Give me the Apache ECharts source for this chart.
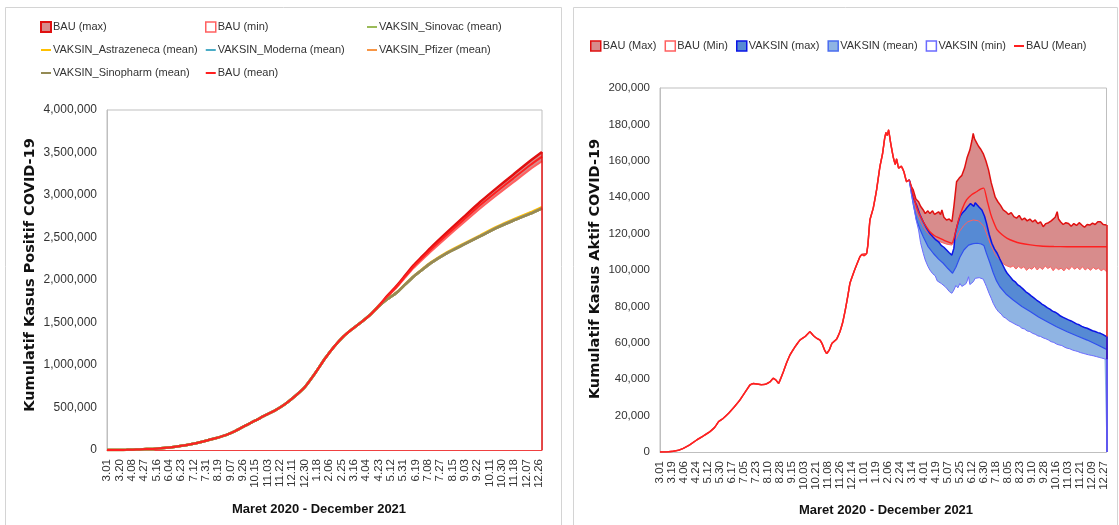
<!DOCTYPE html>
<html>
<head>
<meta charset="utf-8">
<script src="https://cdn.jsdelivr.net/npm/echarts/dist/echarts.min.js"></script>
<style>
  html, body { margin: 0; padding: 0; background: #ffffff; }
  #chart { width: 1119px; height: 525px; }
</style>
</head>
<body>
<div id="chart"></div>
<script>
// Daily axis: day 0 = 1 March 2020, last day = 31 December 2021
const firstDay = Date.UTC(2020, 2, 1);
const dayCount = 671;
const dayLabels = Array.from({ length: dayCount }, (_, i) => {
  const d = new Date(firstDay + i * 86400000);
  return (d.getUTCMonth() + 1) + '.' + String(d.getUTCDate()).padStart(2, '0');
});

// ---- Left panel: cumulative positive cases, [day, cases] ----
const positifHistory = [[0,0],[10,30],[20,450],[30,1528],[40,3800],[50,6700],[61,10500],[75,16000],[91,26500],[105,39300],[121,56400],[137,80100],[152,108400],[167,137500],[183,174800],[198,225000],[213,287000],[228,344700],[244,410100],[259,467100],[274,538900],[289,629400],[305,743200],[320,896600],[336,1078300],[350,1217500],[364,1334600],[378,1425000],[391,1500000],[405,1588000]];
const bauMaxPositif = [[420,1710000],[432,1816000],[446,1931000],[459,2051000],[472,2172000],[485,2274000],[498,2376000],[523,2557000],[549,2739000],[575,2920000],[600,3081000],[626,3242000],[652,3402000],[670,3505000]];
const bauMinPositif = [[420,1702000],[432,1804000],[446,1911000],[459,2027000],[472,2140000],[485,2236000],[498,2330000],[523,2501000],[549,2673000],[575,2844000],[600,2997000],[626,3150000],[652,3304000],[670,3397000]];
const bauMeanPositif = [[420,1706000],[432,1810000],[446,1921000],[459,2039000],[472,2156000],[485,2255000],[498,2353000],[523,2529000],[549,2706000],[575,2882000],[600,3039000],[626,3196000],[652,3353000],[670,3451000]];
const vaksinPositif = [[420,1700000],[432,1775000],[446,1850000],[459,1945000],[472,2039000],[485,2118000],[498,2196000],[523,2314000],[549,2415000],[575,2515000],[600,2612000],[626,2700000],[652,2780000],[670,2843000]];
const astrazenecaPositif = [[420,1700000],[432,1776000],[446,1852000],[459,1948000],[472,2043000],[485,2123000],[498,2202000],[523,2322000],[549,2425000],[575,2526000],[600,2624000],[626,2713000],[652,2794000],[670,2857000]];

// ---- Right panel: active cases, [day, cases] ----
const aktifHistory = [[0,0],[10,50],[20,400],[28,1000],[35,2000],[45,4000],[55,6600],[65,8800],[75,11200],[82,13500],[88,16700],[95,18500],[103,21300],[112,25000],[120,28600],[128,33000],[135,36800],[140,37600],[146,37300],[152,37000],[158,37200],[165,38500],[170,40500],[174,39500],[178,37700],[185,44000],[190,49000],[195,53300],[203,58000],[210,61500],[218,63500],[225,66100],[230,64000],[235,62500],[240,61500],[243,59700],[247,56000],[250,54200],[254,56000],[258,59700],[265,62000],[270,66100],[274,71000],[278,78000],[282,86000],[285,92700],[292,100000],[300,107300],[303,108500],[306,107800],[310,109000],[312,114000],[315,127500],[320,134000],[325,144000],[330,156800],[334,164000],[337,172000],[339,175500],[341,174000],[343,177000],[346,170000],[350,162000],[353,158000],[355,161000],[358,156000],[362,157000],[366,154000],[370,148500],[374,149500]];
const bauMaxAktif = [[377,146000],[380,144000],[384,139000],[388,137500],[391,135000],[395,133000],[398,131000],[402,132500],[405,131000],[409,132500],[412,130500],[415,131500],[418,132000],[421,130500],[423,133000],[426,129000],[430,127500],[434,128000],[438,126500],[441,135000],[445,148500],[449,150500],[453,152000],[457,156000],[461,162000],[465,166000],[468,171000],[470,175000],[472,172000],[475,170000],[478,168000],[481,166500],[485,164000],[489,160000],[493,155000],[497,148000],[500,144000],[503,140000],[507,137500],[511,135500],[515,133000],[519,132000],[523,130500],[527,131500],[531,129300],[535,128500],[539,130000],[543,127500],[547,128500],[551,127000],[555,128000],[559,126500],[563,127500],[567,125500],[571,126500],[575,123800],[579,125500],[583,126000],[587,127000],[590,127500],[593,129000],[596,132000],[598,128000],[601,126500],[605,125000],[609,126000],[613,125600],[617,124000],[621,125500],[625,124500],[629,126000],[633,124700],[637,123500],[641,125000],[645,124700],[649,125800],[653,125000],[657,126500],[661,126500],[665,125000],[668,126000],[670,124700]];
const bauMinAktif = [[380,140000],[385,132000],[390,127500],[395,123800],[400,121000],[405,119000],[412,117000],[420,115500],[430,114200],[438,113700],[444,117000],[450,121500],[456,124500],[462,126500],[470,127500],[478,127000],[486,124000],[492,118000],[497,113000],[500,111000],[503,108500],[506,107500],[510,105500],[513,104000],[516,105000],[519,102500],[522,103500],[526,101500],[530,102300],[534,100500],[538,102000],[542,100800],[546,101800],[550,99800],[554,101200],[558,100400],[562,102000],[566,100000],[570,101500],[574,100300],[578,102200],[582,100800],[586,101800],[590,99600],[594,101400],[598,100200],[602,101000],[606,99500],[610,101300],[614,100200],[618,102000],[622,100400],[626,101500],[630,100100],[634,101800],[638,100000],[642,101200],[646,99800],[650,101400],[654,100300],[658,101000],[662,99600],[666,100500],[670,99000]];
const bauMeanAktif = [[380,141000],[385,134800],[390,130000],[395,126500],[400,123500],[405,121000],[412,118800],[420,117400],[430,115700],[438,114700],[443,120000],[448,127500],[454,134000],[460,138500],[468,141500],[475,143000],[481,144500],[486,145000],[491,138000],[496,131000],[501,126000],[506,122000],[513,119500],[521,117400],[531,115800],[541,114700],[556,113800],[571,113200],[591,112900],[611,112800],[670,112800]];
const vaksinMaxAktif = [[374,149500],[378,143000],[381,139000],[385,135700],[390,130500],[395,126500],[400,123000],[405,120000],[410,118000],[414,116500],[418,115500],[422,113500],[426,112500],[430,111000],[434,109500],[438,108200],[441,112000],[443,120000],[446,124500],[450,129300],[454,131500],[458,133000],[461,134500],[464,133500],[466,136500],[468,136600],[471,135000],[473,137000],[476,135700],[479,134500],[483,133000],[487,129500],[490,125600],[494,119500],[498,114700],[502,111500],[506,109200],[510,106000],[514,103000],[518,100000],[521,98200],[525,96500],[529,94600],[533,93500],[537,91800],[541,90800],[545,89500],[549,88000],[553,87000],[557,85800],[561,84700],[565,83500],[569,82500],[573,81300],[577,80400],[581,79300],[585,78500],[589,77400],[593,76800],[597,75900],[601,74700],[605,74000],[609,73300],[613,72600],[617,72000],[621,71200],[625,70400],[629,69900],[633,69000],[637,68400],[641,68000],[645,67300],[649,66600],[653,66200],[657,65600],[661,65200],[665,64500],[670,63400]];
const vaksinMeanAktif = [[374,149500],[380,136000],[385,127500],[390,122500],[395,118300],[402,113000],[410,109200],[418,106000],[425,103700],[432,100800],[439,98200],[444,101500],[450,107000],[456,111000],[463,113700],[470,114500],[476,114700],[482,114300],[486,113500],[490,109000],[495,104000],[500,98500],[505,94000],[510,90800],[520,86500],[530,83500],[543,80000],[556,77100],[568,74200],[581,71600],[595,68800],[611,66100],[626,63700],[641,61500],[656,58900],[670,56400]];
const vaksinMinAktif = [[374,149500],[377,142000],[380,136600],[384,128000],[388,122000],[391,115000],[395,109200],[398,105500],[402,102000],[405,100000],[409,98000],[413,96800],[416,94000],[418,94500],[422,92600],[425,91800],[428,90800],[431,89600],[434,88200],[436,88800],[438,87200],[441,89000],[444,91500],[447,90200],[450,92600],[453,91000],[456,91800],[459,92400],[461,94000],[463,96300],[465,92000],[468,91800],[470,93500],[473,95400],[476,94800],[479,95800],[482,96300],[485,95000],[488,92500],[490,90800],[494,87000],[497,84500],[500,81700],[504,79000],[508,77000],[512,75800],[515,74300],[519,73500],[523,72200],[527,71400],[531,70600],[535,69800],[539,69200],[543,68000],[547,67600],[551,66500],[555,66200],[559,65200],[563,64700],[567,63800],[571,63500],[575,62700],[579,62200],[583,61500],[587,60600],[591,60200],[595,59300],[599,58800],[603,58500],[607,57600],[611,57000],[615,56700],[619,56000],[623,55600],[627,55200],[631,54600],[635,54200],[639,53800],[643,53400],[647,53100],[651,52800],[655,52400],[659,52000],[663,51600],[667,51200],[670,50900]];

const FONT = '"Liberation Sans", Arial, sans-serif';
const lastDay = dayCount - 1;
const lineIcon = 'path://M0,0M0,10M0,4H10V6H0Z';

// Vertical closing edge of an area at the last day
function edge(data, color, width) {
  const last = data[data.length - 1];
  return {
    silent: true, symbol: ['none', 'none'], z: 4,
    label: { show: false },
    lineStyle: { color: color, width: width, type: 'solid' },
    data: [[{ coord: [lastDay, 0] }, { coord: [lastDay, last[1]] }]]
  };
}

function series(name, panel, data, line, area, extra) {
  return Object.assign({
    name: name, type: 'line',
    xAxisIndex: panel, yAxisIndex: panel,
    data: data, showSymbol: false, symbol: 'none',
    lineStyle: line, itemStyle: { color: line.color },
    areaStyle: area, emphasis: { disabled: true }, silent: true
  }, extra || {});
}

// Vaccine band in the right panel: the fill covers the whole period,
// the outline is only drawn from the branching day onwards.
function vaksinBand(name, projection, fill, lineColor, width, withEdge) {
  const full = aktifHistory.slice(0, -1).concat(projection);
  return [
    series(name, 1, full, { color: lineColor, width: 0, opacity: 0 }, { color: fill, opacity: 1 },
      withEdge ? { markLine: edge(full, lineColor, 1.5) } : {}),
    series(name + ' outline', 1, projection, { color: lineColor, width: width }, null)
  ];
}

function legendBox(color, border, width) {
  return { icon: 'rect', itemStyle: { color: color, borderColor: border, borderWidth: width } };
}
function legendLine(color) {
  return { icon: lineIcon, itemStyle: { color: color, borderWidth: 0 } };
}

const C = {
  bauMaxFill: '#d88c8c', bauMaxLine: '#e01010', bauMinLine: '#ff6060', bauMean: '#ff2020',
  sinovac: '#9bbb59', astra: '#ffc000', moderna: '#4bacc6', pfizer: '#f79646', sinopharm: '#948a54',
  vMaxFill: '#568ad4', vMaxLine: '#0a14e6', vMeanFill: '#8fb4e3', vMeanLine: '#3050ee', vMinLine: '#6b6bff'
};

const leftBauMax = positifHistory.concat(bauMaxPositif);
const rightBauMax = aktifHistory.concat(bauMaxAktif);

const legendCommon = {
  orient: 'vertical', padding: 0, itemWidth: 10, itemHeight: 10, itemGap: 9,
  selectedMode: false,
  textStyle: { fontFamily: FONT, fontSize: 11, color: '#333', lineHeight: 14, padding: [0, 0, 0, -3] }
};

const option = {
  animation: false,
  backgroundColor: '#ffffff',
  grid: [
    { left: 107, top: 110, width: 435, height: 340, show: true, borderColor: '#bfbfbf', borderWidth: 1 },
    { left: 660, top: 88, width: 446.5, height: 364, show: true, borderColor: '#bfbfbf', borderWidth: 1 }
  ],
  legend: [
    Object.assign({ left: 40, top: 20, data: [
      Object.assign({ name: 'BAU (max)' }, legendBox(C.bauMaxFill, C.bauMaxLine, 2)),
      Object.assign({ name: 'VAKSIN_Astrazeneca (mean)' }, legendLine(C.astra)),
      Object.assign({ name: 'VAKSIN_Sinopharm (mean)' }, legendLine(C.sinopharm))
    ] }, legendCommon),
    Object.assign({ left: 205, top: 20, data: [
      Object.assign({ name: 'BAU (min)' }, legendBox('#ffffff', C.bauMinLine, 1.5)),
      Object.assign({ name: 'VAKSIN_Moderna (mean)' }, legendLine(C.moderna)),
      Object.assign({ name: 'BAU (mean)' }, legendLine(C.bauMean))
    ] }, legendCommon),
    Object.assign({ left: 367, top: 20, data: [
      Object.assign({ name: 'VAKSIN_Sinovac (mean)' }, legendLine(C.sinovac)),
      Object.assign({ name: 'VAKSIN_Pfizer (mean)' }, legendLine(C.pfizer))
    ] }, legendCommon),
    Object.assign({}, legendCommon, { orient: 'horizontal', left: 590, top: 39, itemGap: 8, data: [
      Object.assign({ name: 'BAU (Max)' }, legendBox(C.bauMaxFill, C.bauMaxLine, 1.5)),
      Object.assign({ name: 'BAU (Min)' }, legendBox('#ffffff', C.bauMinLine, 1.5)),
      Object.assign({ name: 'VAKSIN (max)' }, legendBox(C.vMaxFill, C.vMaxLine, 1.5)),
      Object.assign({ name: 'VAKSIN (mean)' }, legendBox(C.vMeanFill, '#4a6cf0', 1.5)),
      Object.assign({ name: 'VAKSIN (min)' }, legendBox('#ffffff', C.vMinLine, 1.5)),
      Object.assign({ name: 'BAU (Mean)' }, legendLine(C.bauMean))
    ] })
  ],
  xAxis: [0, 1].map(i => ({
    type: 'category', gridIndex: i, data: dayLabels, boundaryGap: false,
    axisTick: { show: false },
    axisLine: { lineStyle: { color: i === 0 ? '#f04040' : '#bfbfbf', width: 1 } },
    axisLabel: { interval: i === 0 ? 18 : 17, rotate: 90, margin: 9, fontFamily: FONT, fontSize: 11.5, color: '#333' },
    splitLine: { show: false }
  })),
  yAxis: [
    { type: 'value', gridIndex: 0, min: 0, max: 4000000, interval: 500000 },
    { type: 'value', gridIndex: 1, min: 0, max: 200000, interval: 20000 }
  ].map((a, i) => Object.assign(a, {
    axisLine: { show: true, lineStyle: { color: '#bfbfbf' } },
    axisTick: { show: false },
    splitLine: { show: false },
    axisLabel: { margin: 10, fontFamily: FONT, fontSize: i === 0 ? 12 : 11.5, color: '#333',
      formatter: v => v.toLocaleString('en-US') }
  })),
  series: [
    // left panel
    series('BAU (max)', 0, leftBauMax, { color: C.bauMaxLine, width: 2.5 },
      { color: C.bauMaxFill, opacity: 1 }, { smooth: 0.2, markLine: edge(leftBauMax, C.bauMaxLine, 1.5) }),
    series('BAU (min)', 0, positifHistory.concat(bauMinPositif), { color: C.bauMinLine, width: 2 },
      { color: '#ffffff', opacity: 1 }, { smooth: 0.2 }),
    series('VAKSIN_Sinovac (mean)', 0, positifHistory.concat(vaksinPositif), { color: C.sinovac, width: 2.5 }, null, { smooth: 0.2 }),
    series('VAKSIN_Astrazeneca (mean)', 0, positifHistory.concat(astrazenecaPositif), { color: C.astra, width: 2.5 }, null, { smooth: 0.2 }),
    series('VAKSIN_Moderna (mean)', 0, positifHistory.concat(vaksinPositif), { color: C.moderna, width: 2.5 }, null, { smooth: 0.2 }),
    series('VAKSIN_Pfizer (mean)', 0, positifHistory.concat(vaksinPositif), { color: C.pfizer, width: 2.5 }, null, { smooth: 0.2 }),
    series('VAKSIN_Sinopharm (mean)', 0, positifHistory.concat(vaksinPositif), { color: C.sinopharm, width: 2.5 }, null, { smooth: 0.2 }),
    series('BAU (mean)', 0, positifHistory.concat(bauMeanPositif), { color: C.bauMean, width: 2 }, null, { smooth: 0.2 }),
    // right panel
    series('BAU (Max)', 1, rightBauMax, { color: C.bauMaxLine, width: 1.5 },
      { color: C.bauMaxFill, opacity: 1 }, { markLine: edge(rightBauMax, C.bauMaxLine, 1.5) }),
    series('BAU (Min)', 1, aktifHistory.concat(bauMinAktif), { color: C.bauMinLine, width: 1 },
      { color: '#ffffff', opacity: 1 })
  ].concat(
    vaksinBand('VAKSIN (max)', vaksinMaxAktif, C.vMaxFill, C.vMaxLine, 1.5, true),
    vaksinBand('VAKSIN (mean)', vaksinMeanAktif, C.vMeanFill, C.vMeanLine, 1.2, false),
    vaksinBand('VAKSIN (min)', vaksinMinAktif, '#ffffff', C.vMinLine, 1, true),
    [series('BAU (Mean)', 1, aktifHistory.concat(bauMeanAktif), { color: C.bauMean, width: 1.4 }, null, { smooth: 0.15 })]
  ),
  graphic: [
    { type: 'rect', silent: true, shape: { x: 5.5, y: 7.5, width: 556, height: 540 },
      style: { fill: 'none', stroke: '#d4d4d4', lineWidth: 1 } },
    { type: 'rect', silent: true, shape: { x: 573.5, y: 7.5, width: 544, height: 540 },
      style: { fill: 'none', stroke: '#d4d4d4', lineWidth: 1 } },
    { type: 'text', silent: true, x: 30, y: 275, rotation: Math.PI / 2,
      style: { text: 'Kumulatif Kasus Positif COVID-19', font: 'bold 14.5px "DejaVu Sans", sans-serif',
        fill: '#111', align: 'center', verticalAlign: 'middle' } },
    { type: 'text', silent: true, x: 595, y: 269, rotation: Math.PI / 2,
      style: { text: 'Kumulatif Kasus Aktif COVID-19', font: 'bold 14.5px "DejaVu Sans", sans-serif',
        fill: '#111', align: 'center', verticalAlign: 'middle' } },
    { type: 'text', silent: true, x: 319, y: 509,
      style: { text: 'Maret 2020 - December 2021', font: 'bold 13px "Liberation Sans", Arial, sans-serif',
        fill: '#111', align: 'center', verticalAlign: 'middle' } },
    { type: 'text', silent: true, x: 886, y: 510,
      style: { text: 'Maret 2020 - December 2021', font: 'bold 13px "Liberation Sans", Arial, sans-serif',
        fill: '#111', align: 'center', verticalAlign: 'middle' } }
  ]
};

const chart = echarts.init(document.getElementById('chart'), null, { renderer: 'canvas' });
chart.setOption(option);
</script>
</body>
</html>
